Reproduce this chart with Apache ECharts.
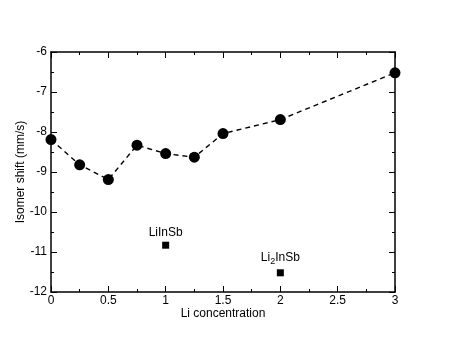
<!DOCTYPE html>
<html>
<head>
<meta charset="utf-8">
<script src="https://cdn.jsdelivr.net/npm/echarts@6/dist/echarts.min.js"></script>
<style>
  html, body { margin: 0; padding: 0; background: #fff; }
  #chart { width: 457px; height: 353px; }
</style>
</head>
<body>
<div id="chart"></div>
<script>
// Li concentration vs isomer shift
const liConc = [0, 0.25, 0.5, 0.75, 1, 1.25, 1.5, 2, 3]
const isomerShift = [-8.19, -8.82, -9.19, -8.33, -8.54, -8.63, -8.04, -7.69, -6.52]
const compoundNames = ['LiInSb', 'Li2InSb']
const compoundConc = [1, 2]
const compoundShift = [-10.83, -11.52]

const font = 'Liberation Sans, Arial, sans-serif'
const myChart = echarts.init(document.getElementById('chart'))

const boxAxis = (extra) => Object.assign({
  axisLine: { show: true, onZero: false, lineStyle: { color: '#000', width: 1.5 } },
  axisTick: { show: true, inside: true, length: 6, lineStyle: { color: '#000' } },
  minorTick: { show: true, splitNumber: 2, length: 3, lineStyle: { color: '#000' } },
  splitLine: { show: false }
}, extra)

myChart.setOption({
  animation: false,
  textStyle: { fontFamily: font },
  grid: { left: 51, right: 62, top: 52, bottom: 61 },
  xAxis: [
    boxAxis({
      type: 'value', min: 0, max: 3, interval: 0.5,
      name: 'Li concentration', nameLocation: 'middle', nameGap: 16, nameMoveOverlap: false,
      nameTextStyle: { color: '#000', fontSize: 12, fontFamily: font },
      axisLabel: { color: '#000', fontSize: 12, margin: 3, fontFamily: font }
    }),
    boxAxis({
      type: 'value', min: 0, max: 3, interval: 0.5, position: 'top',
      axisLabel: { show: false }
    })
  ],
  yAxis: [
    boxAxis({
      type: 'value', min: -12, max: -6, interval: 1,
      name: 'Isomer shift (mm/s)', nameLocation: 'middle', nameGap: 24, nameMoveOverlap: false,
      nameTextStyle: { color: '#000', fontSize: 12, fontFamily: font },
      axisLabel: { color: '#000', fontSize: 12, margin: 4, fontFamily: font }
    }),
    boxAxis({
      type: 'value', min: -12, max: -6, interval: 1, position: 'right',
      axisLabel: { show: false }
    })
  ],
  series: [
    {
      type: 'line',
      data: liConc.map((x, i) => [x, isomerShift[i]]),
      symbol: 'circle',
      symbolSize: 11,
      itemStyle: { color: '#000' },
      lineStyle: { color: '#000', width: 1.4, type: [5, 4] }
    },
    {
      type: 'scatter',
      data: compoundConc.map((x, i) => ({ value: [x, compoundShift[i]], name: compoundNames[i] })),
      symbol: 'rect',
      symbolSize: 7,
      itemStyle: { color: '#000', opacity: 1 },
      label: {
        show: true,
        position: 'top',
        distance: 3,
        color: '#000',
        fontSize: 12,
        fontFamily: font,
        formatter: (p) => p.name === 'Li2InSb' ? 'Li{sub|2}InSb' : p.name,
        rich: {
          sub: { fontSize: 9, verticalAlign: 'bottom', padding: [8, 0, 0, 0], color: '#000', fontFamily: font }
        }
      }
    }
  ]
})
</script>
</body>
</html>
